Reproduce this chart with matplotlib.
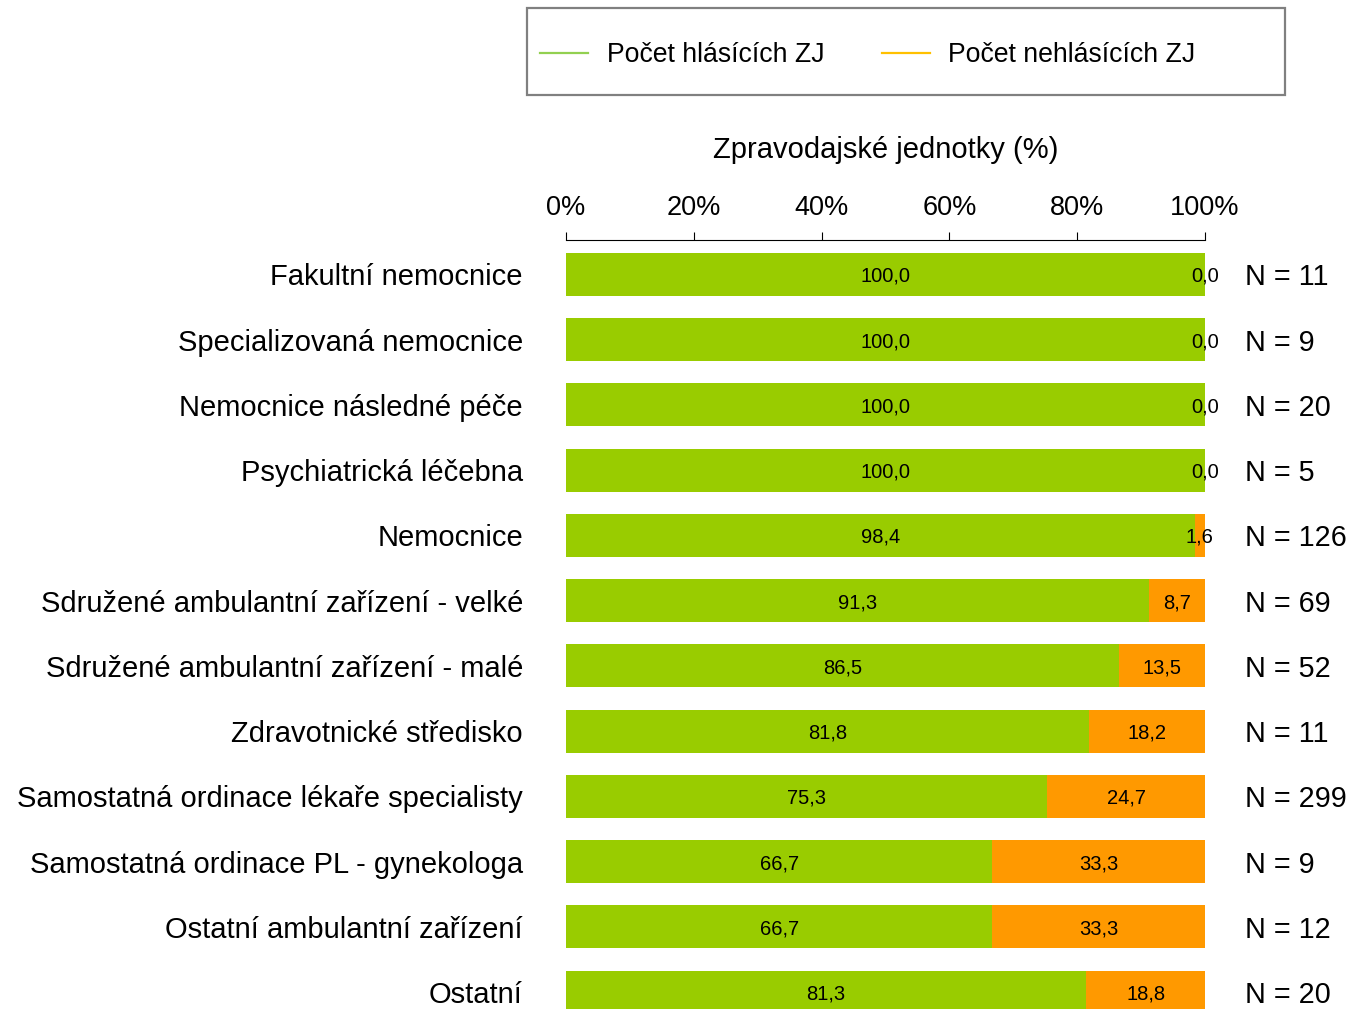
import matplotlib
matplotlib.use("Agg")
import matplotlib.pyplot as plt
from matplotlib.lines import Line2D
from matplotlib.patches import Rectangle

plt.rcParams['font.family'] = ['Liberation Sans', 'DejaVu Sans']

# data
categories = [
    "Fakultní nemocnice",
    "Specializovaná nemocnice",
    "Nemocnice následné péče",
    "Psychiatrická léčebna",
    "Nemocnice",
    "Sdružené ambulantní zařízení - velké",
    "Sdružené ambulantní zařízení - malé",
    "Zdravotnické středisko",
    "Samostatná ordinace lékaře specialisty",
    "Samostatná ordinace PL - gynekologa",
    "Ostatní ambulantní zařízení",
    "Ostatní",
]
reporting = [100.0, 100.0, 100.0, 100.0, 98.4, 91.3, 86.5, 81.8, 75.3, 66.7, 66.7, 81.3]
not_reporting = [0.0, 0.0, 0.0, 0.0, 1.6, 8.7, 13.5, 18.2, 24.7, 33.3, 33.3, 18.8]
n_units = [11, 9, 20, 5, 126, 69, 52, 11, 299, 9, 12, 20]

legend_labels = ["Počet hlásících ZJ", "Počet nehlásících ZJ"]
xticks = [0, 20, 40, 60, 80, 100]

GREEN = '#99CC00'
ORANGE = '#FF9900'

W, H = 1351, 1009
fig = plt.figure(figsize=(W / 100, H / 100), dpi=100)
ax = fig.add_axes([566 / W, 0.0, (1205 - 566) / W, 1 - 240 / H])

ypos = list(range(len(categories)))
bh = 0.66
ax.barh(ypos, reporting, height=bh, color=GREEN, linewidth=0)
ax.barh(ypos, not_reporting, left=reporting, height=bh, color=ORANGE, linewidth=0)

def fmt(v):
    return f"{v:.1f}".replace('.', ',')

for i in ypos:
    g, o = reporting[i], not_reporting[i]
    ax.text(g / 2, i, fmt(g), ha='center', va='center_baseline', fontsize=14.5, color='black')
    ax.text(g + o / 2, i, fmt(o), ha='center', va='center_baseline', fontsize=14.5, color='black')
    ax.annotate(f"N = {n_units[i]}", xy=(100, i), xytext=(29, 0),
                textcoords='offset points', ha='left', va='center_baseline',
                fontsize=20.7, annotation_clip=False)

ax.set_xlim(0, 100)
ax.set_ylim(11.26, -0.528)
ax.set_yticks(ypos)
ax.set_yticklabels(categories, fontsize=21, va='center_baseline')
ax.tick_params(axis='y', length=0, pad=31)

ax.xaxis.tick_top()
ax.xaxis.set_label_position('top')
ax.set_xticks(xticks)
ax.set_xticklabels([f"{t}%" for t in xticks], fontsize=19.5)
ax.tick_params(axis='x', direction='out', length=6, width=0.8, pad=8)
ax.set_xlabel("Zpravodajské jednotky (%)", fontsize=21, labelpad=26)

for s in ['left', 'right', 'bottom']:
    ax.spines[s].set_visible(False)
ax.spines['top'].set_linewidth(0.8)

# legend with its own grey box
handles = [Line2D([], [], color='#92D050', lw=1.6),
           Line2D([], [], color='#FFC000', lw=1.6)]
fig.legend(handles, legend_labels, loc='center left',
           bbox_to_anchor=(540 / W, 1 - 55 / H), ncol=2, frameon=False,
           fontsize=19.2, handlelength=1.8, handletextpad=0.7,
           columnspacing=2.15, borderpad=0, borderaxespad=0)
fig.patches.append(Rectangle((527 / W, 1 - 95 / H), (1285 - 527) / W, (95 - 8) / H,
                             transform=fig.transFigure, fill=False,
                             edgecolor='#808080', linewidth=1.6))

fig.savefig("out.png", dpi=100)
